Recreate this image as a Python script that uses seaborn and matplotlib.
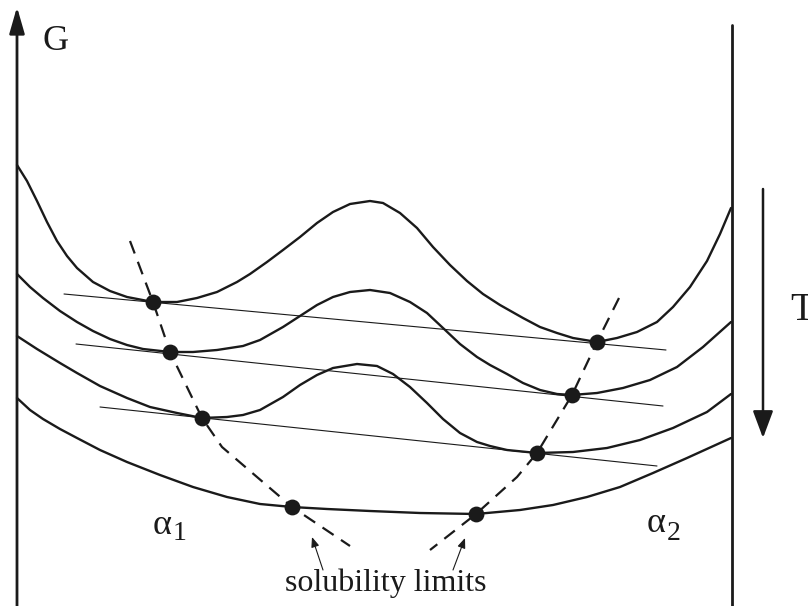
import matplotlib
matplotlib.use("Agg")
import matplotlib.pyplot as plt
import seaborn as sns

# ---- data (schematic free-energy curves, read in picture coordinates) ----
c1_x = [17, 27, 37, 47, 57, 67, 77, 93, 110, 127, 153, 177, 197, 217, 237, 250, 267, 283, 300, 317, 333, 350, 370, 383, 400, 417, 433, 450, 467, 483, 500, 523, 540, 557, 573, 597, 617, 637, 657, 673, 690, 707, 720, 731]
c1_y = [165, 181, 201, 222, 241, 256, 268, 282, 291, 297, 302, 302, 298, 292, 282, 274, 262, 250, 237, 223, 212, 204, 201, 203, 213, 228, 247, 265, 281, 294, 305, 318, 327, 333, 338, 342, 338, 332, 322, 307, 287, 261, 234, 208]

c2_x = [17, 30, 43, 60, 77, 93, 110, 127, 143, 170, 193, 217, 243, 260, 283, 300, 317, 333, 350, 370, 390, 410, 427, 443, 460, 477, 490, 507, 523, 540, 557, 572, 597, 623, 650, 677, 703, 731]
c2_y = [274, 287, 298, 311, 322, 331, 339, 345, 349, 352, 352, 350, 346, 340, 327, 316, 305, 297, 292, 290, 293, 302, 313, 328, 344, 357, 365, 374, 383, 390, 394, 395, 393, 388, 380, 367, 347, 322]

c3_x = [17, 37, 60, 77, 100, 127, 150, 177, 202, 227, 243, 260, 283, 300, 317, 333, 357, 377, 393, 410, 427, 443, 460, 477, 490, 507, 537, 573, 607, 640, 673, 707, 731]
c3_y = [336, 349, 363, 373, 386, 398, 407, 413, 418, 417, 415, 410, 397, 385, 375, 368, 364, 366, 374, 387, 403, 419, 433, 442, 446, 450, 453, 452, 448, 440, 428, 412, 394]

c4_x = [17, 30, 43, 60, 77, 100, 127, 160, 193, 227, 260, 292, 327, 370, 420, 476, 520, 553, 587, 620, 653, 687, 720, 731]
c4_y = [398, 410, 419, 429, 438, 450, 462, 475, 487, 497, 504, 507, 509, 511, 513, 514, 510, 505, 497, 487, 473, 458, 443, 438]

# common-tangent lines (start/end)
tan_x = [[64, 666], [76, 663], [100, 657]]
tan_y = [[294, 350], [344, 406], [407, 466]]

# solubility-limit points
dot_x = [153, 170, 202, 292, 597, 572, 537, 476]
dot_y = [302, 352, 418, 507, 342, 395, 453, 514]

# dashed solubility-limit loci
dl_x = [130, 153, 170, 202, 222, 292, 350]
dl_y = [241, 302, 352, 418, 447, 507, 546]
dr_x = [619, 597, 572, 537, 517, 476, 430]
dr_y = [298, 342, 395, 453, 477, 514, 550]

INK = "#1a1a1a"

sns.set_theme(style="white")
plt.rcParams["font.family"] = ["Liberation Serif", "DejaVu Serif"]

fig = plt.figure(figsize=(8.08, 6.06), dpi=100)
ax = fig.add_axes([0, 0, 1, 1])
ax.set_xlim(0, 808)
ax.set_ylim(606, 0)
ax.axis("off")

# curves
for cx, cy in [(c1_x, c1_y), (c2_x, c2_y), (c3_x, c3_y), (c4_x, c4_y)]:
    sns.lineplot(x=cx, y=cy, sort=False, estimator=None, color=INK, lw=1.7, ax=ax,
                 solid_joinstyle="round")

# tangents
for tx, ty in zip(tan_x, tan_y):
    sns.lineplot(x=tx, y=ty, sort=False, estimator=None, color=INK, lw=0.8, ax=ax)

# dashed loci
for dx, dy in [(dl_x, dl_y), (dr_x, dr_y)]:
    sns.lineplot(x=dx, y=dy, sort=False, estimator=None, color=INK, lw=1.6,
                 linestyle=(0, (6, 4)), ax=ax)

# dots
sns.scatterplot(x=dot_x, y=dot_y, s=130, color=INK, edgecolor=INK, linewidth=0, zorder=5, ax=ax)

# axes lines
ax.annotate("", xy=(17, 7), xytext=(17, 606),
            arrowprops=dict(arrowstyle="-|>,head_length=0.8,head_width=0.23", lw=2.0,
                            color=INK, mutation_scale=20, shrinkA=0, shrinkB=0))
ax.plot([732, 732], [25, 606], color=INK, lw=2.0)

# T arrow
ax.annotate("", xy=(763, 438), xytext=(763, 189),
            arrowprops=dict(arrowstyle="-|>,head_length=0.83,head_width=0.31", lw=1.8,
                            color=INK, mutation_scale=20, shrinkA=0, shrinkB=0))

# labels
ax.text(56, 42, "G", fontsize=26, ha="center", va="center", color=INK)
ax.text(790, 310, "T", fontsize=28, ha="left", va="center", color=INK)
ax.text(162, 525, "α", fontsize=26, ha="center", va="center", color=INK)
ax.text(180, 533, "1", fontsize=20, ha="center", va="center", color=INK)
ax.text(656, 524, "α", fontsize=26, ha="center", va="center", color=INK)
ax.text(674, 533, "2", fontsize=20, ha="center", va="center", color=INK)
ax.text(386, 583, "solubility limits", fontsize=23, ha="center", va="center", color=INK)

# small pointer arrows
for (x0, y0), (x1, y1) in [((323, 570), (312, 537)), ((453, 570), (465, 538))]:
    ax.annotate("", xy=(x1, y1), xytext=(x0, y0),
                arrowprops=dict(arrowstyle="-|>,head_length=0.5,head_width=0.2", lw=0.8,
                                color=INK, mutation_scale=12, shrinkA=0, shrinkB=0))

fig.savefig("out.png", dpi=100)
